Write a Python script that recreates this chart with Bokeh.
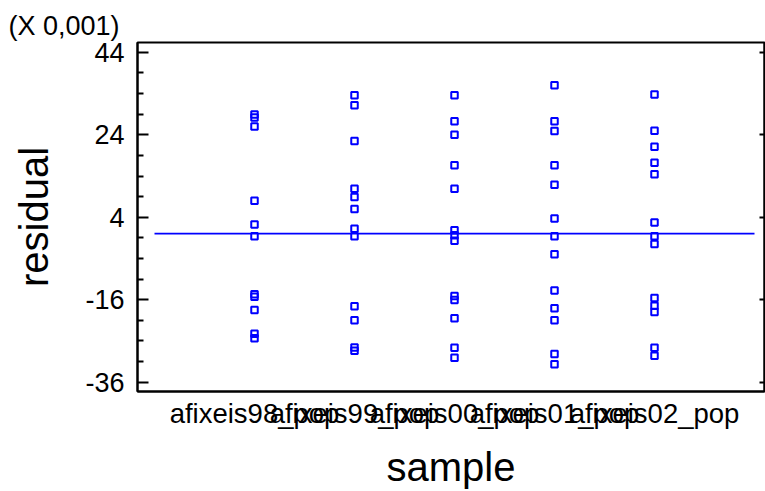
from bokeh.plotting import figure
from bokeh.models import FixedTicker, LinearAxis
from bokeh.embed import file_html
from bokeh.resources import INLINE

categories = ["afixeis98_pop", "afixeis99_pop", "afixeis00_pop", "afixeis01_pop", "afixeis02_pop"]

res_98 = [28.9, 28.2, 26.0, 8.0, 2.2, -0.6, -14.7, -15.3, -18.5, -24.3, -25.4]
res_99 = [33.6, 31.2, 22.5, 10.9, 8.9, 6.0, 1.2, -0.6, -17.6, -21.0, -27.6, -28.4]
res_00 = [33.6, 27.3, 24.0, 16.6, 10.9, 0.85, -0.35, -1.7, -15.1, -16.1, -20.5, -27.7, -30.1]
res_01 = [36.0, 27.3, 24.9, 16.6, 11.9, 3.7, -0.6, -5.0, -13.8, -18.1, -21.0, -29.2, -31.7]
res_02 = [33.8, 25.0, 21.1, 17.2, 14.4, 2.7, -0.6, -2.5, -15.6, -17.5, -19.0, -27.7, -29.6]
series = [res_98, res_99, res_00, res_01, res_02]

y_ticks = [-36, -16, 4, 24, 44]
y_tick_labels = ["-36", "-16", "4", "24", "44"]
y_minor = [-31, -26, -21, -11, -6, -1, 9, 14, 19, 29, 34, 39]
zero_level = 0.0
scale_note = "(X 0,001)"

FONT = "Liberation Sans"
BLUE = "#0000FF"

p = figure(width=765, height=491, output_backend="svg", toolbar_location=None,
           x_range=(-0.17, 6.10), y_range=(-38.3, 46.4),
           min_border_left=137, min_border_right=1, min_border_top=42, min_border_bottom=98,
           y_axis_location=None, x_axis_location=None)
p.outline_line_color = "black"
p.outline_line_width = 2
p.xgrid.visible = False
p.ygrid.visible = False
p.background_fill_color = "white"
p.border_fill_color = "white"

p.title.text = scale_note
p.title.align = "left"
p.title.offset = -129
p.title.standoff = 3
p.title.text_font = FONT
p.title.text_font_size = "27px"
p.title.text_font_style = "normal"
p.title.text_color = "black"

# data
xs, ys = [], []
for i, vals in enumerate(series):
    for v in vals:
        xs.append(i + 1)
        ys.append(v)

p.line(x=[0, 6], y=[zero_level, zero_level], line_color=BLUE, line_width=1.8)
p.scatter(x=xs, y=ys, marker="square", size=6.5, fill_color="white", fill_alpha=0,
          line_color=BLUE, line_width=2)

# left axis
ly = LinearAxis(ticker=FixedTicker(ticks=y_ticks, minor_ticks=y_minor),
                axis_label="residual")
ly.major_label_overrides = dict(zip(y_ticks, y_tick_labels))
ly.axis_line_width = 2
ly.major_tick_in = 11
ly.major_tick_out = 0
ly.minor_tick_in = 6
ly.minor_tick_out = 0
ly.major_tick_line_width = 2
ly.minor_tick_line_width = 2
ly.major_label_text_font = FONT
ly.major_label_text_font_size = "27px"
ly.major_label_text_color = "black"
ly.major_label_standoff = 13
ly.axis_label_text_font = FONT
ly.axis_label_text_font_size = "40px"
ly.axis_label_text_font_style = "normal"
ly.axis_label_text_color = "black"
ly.axis_label_standoff = 26
p.add_layout(ly, "left")

# right axis (ticks only)
ry = LinearAxis(ticker=FixedTicker(ticks=y_ticks, minor_ticks=[]))
ry.major_label_overrides = {t: "" for t in y_ticks}
ry.axis_line_width = 2
ry.major_tick_in = 5
ry.major_tick_out = 0
ry.minor_tick_in = 0
ry.minor_tick_out = 0
ry.major_tick_line_width = 2
ry.major_label_standoff = 0
p.add_layout(ry, "right")

# bottom axis
bx = LinearAxis(ticker=FixedTicker(ticks=[1, 2, 3, 4, 5], minor_ticks=[]),
                axis_label="sample")
bx.major_label_overrides = {i + 1: c for i, c in enumerate(categories)}
bx.axis_line_width = 2
bx.major_tick_in = 0
bx.major_tick_out = 0
bx.minor_tick_in = 0
bx.minor_tick_out = 0
bx.major_label_text_font = FONT
bx.major_label_text_font_size = "27.5px"
bx.major_label_text_color = "black"
bx.major_label_standoff = 6
bx.axis_label_text_font = FONT
bx.axis_label_text_font_size = "40px"
bx.axis_label_text_font_style = "normal"
bx.axis_label_text_color = "black"
bx.axis_label_standoff = 13
p.add_layout(bx, "below")

open("out.html", "w").write(file_html(p, INLINE))
